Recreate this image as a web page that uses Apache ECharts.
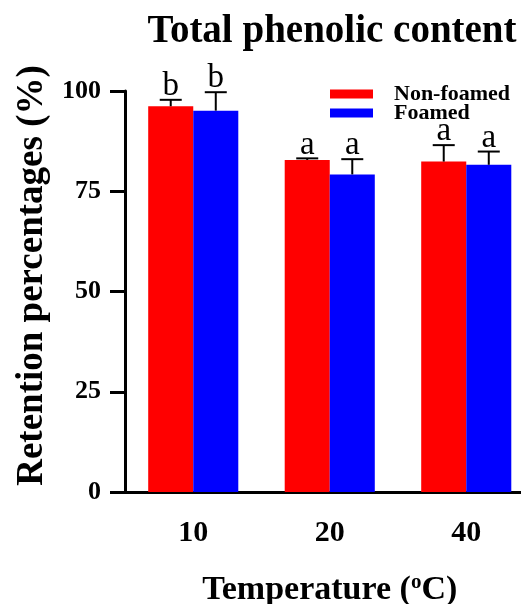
<!DOCTYPE html>
<html>
<head>
<meta charset="utf-8">
<script src="https://cdn.jsdelivr.net/npm/echarts@6/dist/echarts.min.js"></script>
<style>
  html, body { margin: 0; padding: 0; background: #fff; }
  #chart { width: 521px; height: 604px; }
</style>
</head>
<body>
<div id="chart"></div>
<script>
// 数据
var categories = ['10', '20', '40'];
var nonFoamed = [96.2, 82.8, 82.4];
var foamed = [95.1, 79.2, 81.6];
var nonFoamedErr = [1.6, 0.4, 4.1];
var foamedErr = [4.6, 3.8, 3.3];
var nonFoamedLetters = ['b', 'a', 'a'];
var foamedLetters = ['b', 'a', 'a'];
var yTicks = [0, 25, 50, 75, 100];

var serif = 'Liberation Serif';

// 误差线 + 字母标注
function errItem(values, errs, letters, side){
    return function(params, api){
        var i = params.dataIndex;
        var band = api.size([1, 0])[0];
        var bw = band * 0.66 / 2;
        var c = api.coord([i, values[i]]);
        var x = c[0] + side * bw / 2;
        var top = api.coord([i, values[i] + errs[i]])[1];
        var half = 11;
        return {
            type: 'group',
            children: [
                {type: 'line', shape: {x1: x, y1: c[1], x2: x, y2: top},
                    style: {stroke: '#000', lineWidth: 2}},
                {type: 'line', shape: {x1: x - half, y1: top, x2: x + half, y2: top},
                    style: {stroke: '#000', lineWidth: 2}},
                {type: 'text', x: x, y: top + 3,
                    style: {text: letters[i], fontFamily: serif, fontSize: 33,
                        fill: '#000', align: 'center', verticalAlign: 'bottom'}}
            ]
        };
    };
}

var chart = echarts.init(document.getElementById('chart'));

var option = {
    animation: false,
    backgroundColor: '#fff',
    title: {
        text: 'Total phenolic content',
        left: 327,
        top: 7,
        textAlign: 'center',
        textStyle: {fontFamily: serif, fontWeight: 'bold', fontSize: 39, color: '#000'}
    },
    legend: {
        orient: 'vertical',
        left: 325,
        top: 78,
        itemWidth: 43,
        itemHeight: 9,
        itemGap: -3,
        icon: 'rect',
        data: ['Non-foamed', 'Foamed'],
        textStyle: {fontFamily: serif, fontWeight: 'bold', fontSize: 22, lineHeight: 18,
            color: '#000', padding: [0, 0, 0, 16]}
    },
    grid: {left: 125, right: -13.5, top: 91, bottom: 112, containLabel: false,
        outerBoundsMode: 'none'},
    xAxis: {
        type: 'category',
        data: categories,
        name: 'Temperature ({s|o}C)',
        nameLocation: 'middle',
        nameGap: 80,
        nameTextStyle: {fontFamily: serif, fontWeight: 'bold', fontSize: 34, color: '#000',
            rich: {s: {fontFamily: serif, fontWeight: 'bold', fontSize: 21, color: '#000',
                padding: [0, 0, 16, 0]}}},
        axisLine: {lineStyle: {color: '#000', width: 3}},
        axisTick: {alignWithLabel: true, length: 15, lineStyle: {color: '#000', width: 3}},
        axisLabel: {fontFamily: serif, fontWeight: 'bold', fontSize: 30, color: '#000', margin: 26}
    },
    yAxis: {
        type: 'value',
        min: 0,
        max: 100,
        interval: 25,
        name: 'Retention percentages (%)',
        nameLocation: 'middle',
        nameGap: 74,
        nameTextStyle: {fontFamily: serif, fontWeight: 'bold', fontSize: 37, color: '#000',
            padding: [0, 0, 0, 32]},
        axisLine: {show: true, lineStyle: {color: '#000', width: 3}},
        axisTick: {show: true, length: 15, lineStyle: {color: '#000', width: 3}},
        axisLabel: {fontFamily: serif, fontWeight: 'bold', fontSize: 26, color: '#000', margin: 24,
            formatter: function(v){ return yTicks.indexOf(v) > -1 ? String(v) : ''; }},
        splitLine: {show: false}
    },
    series: [
        {
            name: 'Non-foamed', type: 'bar', data: nonFoamed,
            barGap: '0%', barCategoryGap: '34%',
            itemStyle: {color: '#ff0000'}
        },
        {
            name: 'Foamed', type: 'bar', data: foamed,
            barGap: '0%', barCategoryGap: '34%',
            itemStyle: {color: '#0000ff'}
        },
        {
            type: 'custom', z: 5, data: nonFoamed,
            renderItem: errItem(nonFoamed, nonFoamedErr, nonFoamedLetters, -1)
        },
        {
            type: 'custom', z: 5, data: foamed,
            renderItem: errItem(foamed, foamedErr, foamedLetters, 1)
        }
    ]
};

chart.setOption(option);
</script>
</body>
</html>
